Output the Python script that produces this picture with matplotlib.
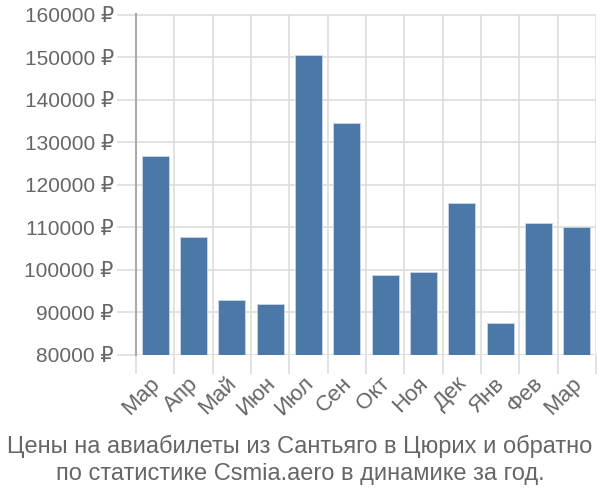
import matplotlib
matplotlib.use("Agg")
import matplotlib.pyplot as plt
import matplotlib.transforms as mtransforms
import numpy as np

plt.rcParams['font.family'] = ['Liberation Sans', 'DejaVu Sans']

# Data
months = ["Мар", "Апр", "Май", "Июн", "Июл", "Сен", "Окт", "Ноя", "Дек", "Янв", "Фев", "Мар"]
prices = [126700, 107800, 92900, 91900, 150600, 134600, 98900, 99600, 115800, 87500, 111000, 110200]
yticks = [80000, 90000, 100000, 110000, 120000, 130000, 140000, 150000, 160000]

text_color = "#666666"
grid_color = "#dddddd"

fig = plt.figure(figsize=(6, 5), dpi=100)
ax = fig.add_axes([136 / 600, 1 - 355 / 500, 460 / 600, 341 / 500])

x = np.arange(len(months))
ax.bar(x, prices, width=0.71, color="#4c78a8", edgecolor="#c9d6e6", linewidth=0.6, zorder=3)

ax.set_xlim(-0.5, len(months) - 0.5)
ax.set_ylim(80000, 160200)

# vertical grid on category boundaries, extended below as ticks
ax.set_xticks(np.arange(len(months) + 1) - 0.5, minor=True)
ax.set_xticks(x)
ax.set_xticklabels(months, rotation=45, ha="right", va="top", rotation_mode="anchor",
                   fontsize=16, color=text_color)
ax.tick_params(axis="x", which="major", length=0, pad=13)
ax.tick_params(axis="x", which="minor", length=14, color=grid_color, width=1.2)
ax.grid(axis="x", which="minor", color=grid_color, linewidth=1.2, zorder=0)
shift = mtransforms.ScaledTranslation(-6 / 100, 0, fig.dpi_scale_trans)
for lab in ax.get_xticklabels():
    lab.set_transform(lab.get_transform() + shift)

ax.set_yticks(yticks)
ax.set_yticklabels([f"{v} ₽" for v in yticks], fontsize=15, color=text_color)
ax.tick_params(axis="y", length=14, color=grid_color, width=1.2, pad=2)
ax.grid(axis="y", color=grid_color, linewidth=1.2, zorder=0)

for s in ["top", "right", "bottom"]:
    ax.spines[s].set_visible(False)
ax.spines["left"].set_color("#aaaaaa")
ax.spines["left"].set_linewidth(1.5)
ax.spines["left"].set_bounds(80000, 160200)

fig.text(0.5, 1 - 446 / 500, "Цены на авиабилеты из Сантьяго в Цюрих и обратно",
         ha="center", va="center", fontsize=17, color=text_color)
fig.text(0.5, 1 - 474 / 500, "по статистике Csmia.aero в динамике за год.",
         ha="center", va="center", fontsize=17, color=text_color)

fig.savefig("out.png", dpi=100)
